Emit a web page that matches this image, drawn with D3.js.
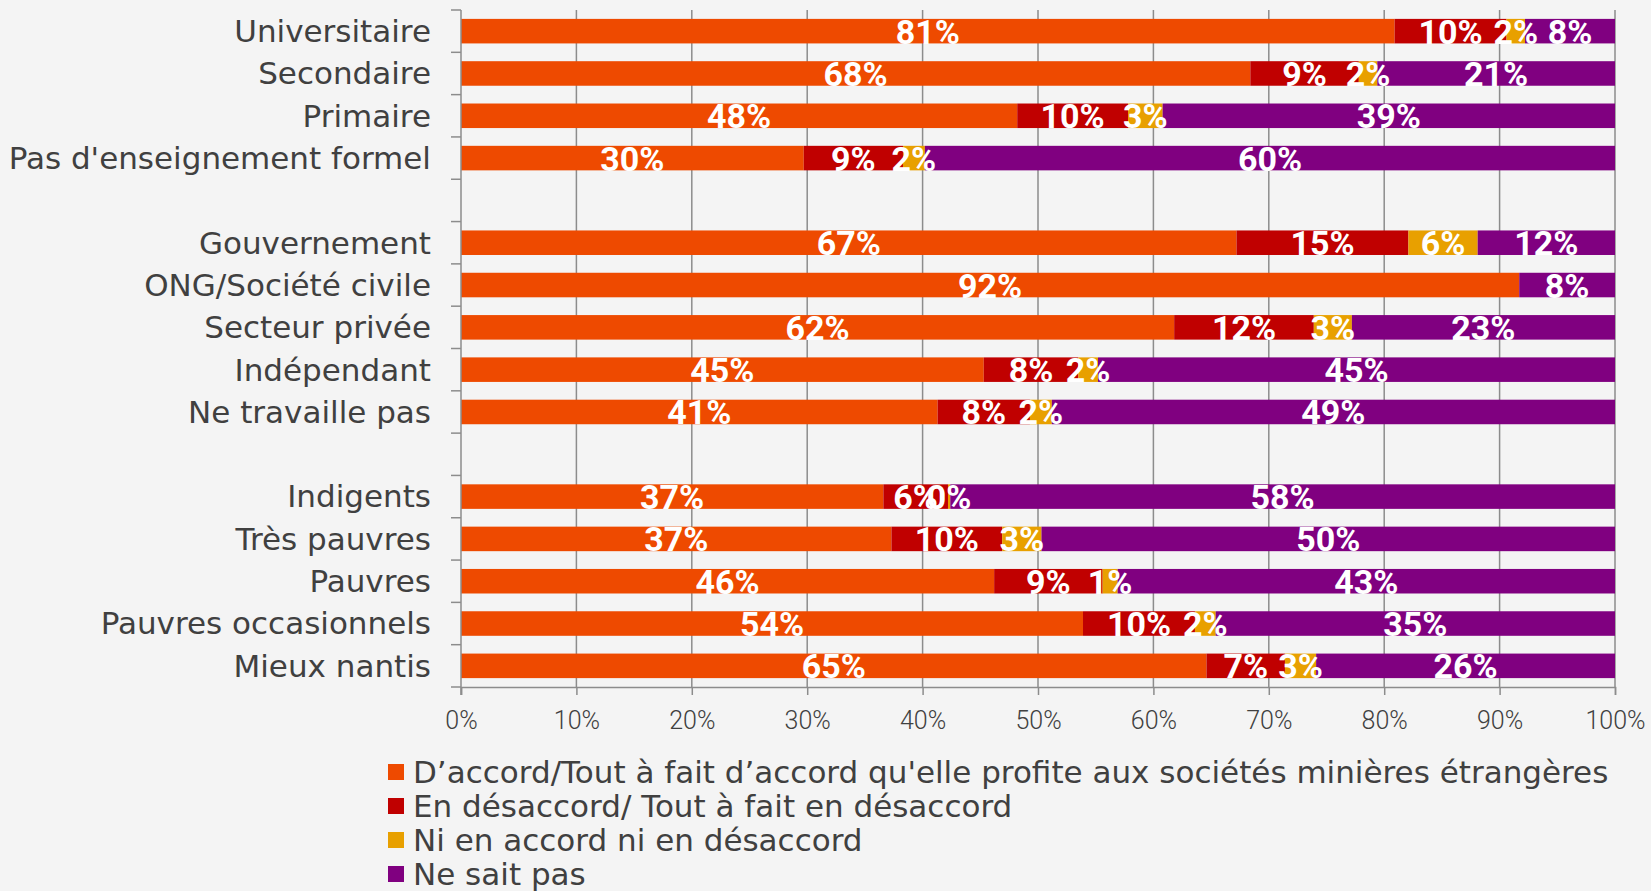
<!DOCTYPE html>
<html>
<head>
<meta charset="utf-8">
<script src="https://cdn.jsdelivr.net/npm/d3@7"></script>
<style>
  html, body { margin: 0; padding: 0; background: #f4f4f4; }
  svg { display: block; }
</style>
</head>
<body>
<svg id="chart" width="1651" height="891"></svg>
<script>
// ---- DATA ----
const categories = [
  "Universitaire", "Secondaire", "Primaire", "Pas d'enseignement formel",
  "",
  "Gouvernement", "ONG/Société civile", "Secteur privée", "Indépendant", "Ne travaille pas",
  "",
  "Indigents", "Très pauvres", "Pauvres", "Pauvres occasionnels", "Mieux nantis"
];
const seriesNames = [
  "D’accord/Tout à fait d’accord qu'elle profite aux sociétés minières étrangères",
  "En désaccord/ Tout à fait en désaccord",
  "Ni en accord ni en désaccord",
  "Ne sait pas"
];
// percentages (labels are these values rounded)
const accord    = [80.9, 68.4, 48.2, 29.7, null, 67.2, 91.7, 61.8, 45.3, 41.3, null, 36.6, 37.3, 46.2, 53.9, 64.6];
const desaccord = [ 9.7,  9.4,  9.6,  8.6, null, 14.9, null, 12.1,  8.2,  8.0, null,  5.6,  9.6,  9.4,  9.7,  6.8];
const neutre    = [ 1.6,  1.6,  3.0,  1.9, null,  6.0, null,  3.3,  1.7,  1.9, null,  0.2,  3.4,  1.3,  1.8,  2.7];
const nsp       = [ 7.8, 20.6, 39.2, 59.8, null, 11.9,  8.3, 22.8, 44.8, 48.8, null, 57.6, 49.7, 43.1, 34.6, 25.9];
const xTicks = [0, 0.1, 0.2, 0.3, 0.4, 0.5, 0.6, 0.7, 0.8, 0.9, 1.0];
const colors = ["#ee4a00", "#c00000", "#e8a000", "#800080"];

// ---- LAYOUT ----
const svg = d3.select("#chart");
const plot = { left: 461, right: 1615, top: 10, bottom: 687 };

const x = d3.scaleLinear().domain([0, 1]).range([plot.left, plot.right]);
const y = d3.scaleBand().domain(d3.range(categories.length)).range([plot.top, plot.bottom]).padding(0);
const barH = y.bandwidth() * 0.58;

const seriesValues = [accord, desaccord, neutre, nsp];
const rows = categories.map((c, i) => {
  const o = { i, name: c };
  seriesValues.forEach((s, k) => { o["s" + k] = s[i] == null ? 0 : s[i]; });
  o.blank = seriesValues.every(s => s[i] == null);
  return o;
});
const keys = ["s0", "s1", "s2", "s3"];
const stack = d3.stack().keys(keys).offset(d3.stackOffsetExpand);
const stacked = stack(rows.filter(r => !r.blank));

// gridlines
const grid = svg.append("g");
grid.selectAll("line").data(xTicks.slice(1)).join("line")
  .attr("x1", d => x(d)).attr("x2", d => x(d))
  .attr("y1", plot.top).attr("y2", plot.bottom)
  .attr("stroke", "#8c8c8c").attr("stroke-width", 1.5);

// bars
const barsG = svg.append("g");
stacked.forEach((layer, k) => {
  const g = barsG.append("g").attr("fill", colors[k]);
  g.selectAll("rect").data(layer).join("rect")
    .attr("x", d => x(d[0]))
    .attr("width", d => Math.max(0, x(d[1]) - x(d[0])))
    .attr("y", d => y(d.data.i) + (y.bandwidth() - barH) / 2)
    .attr("height", barH);
});

// labels
const fmt = d3.format(".0f");
const labG = svg.append("g")
  .attr("font-family", "Roboto, 'Liberation Sans Narrow', sans-serif")
  .attr("font-weight", "bold")
  .attr("font-size", 34)
  .attr("fill", "#ffffff")
  .attr("text-anchor", "middle");
stacked.forEach((layer, k) => {
  const src = seriesValues[k];
  labG.selectAll(null).data(layer.filter(d => src[d.data.i] != null)).join("text")
    .attr("x", d => (x(d[0]) + x(d[1])) / 2)
    .attr("y", d => y(d.data.i) + y.bandwidth() / 2 + 12.5)
    .text(d => fmt(src[d.data.i]) + "%");
});

// x axis
const xAxis = d3.axisBottom(x).tickValues(xTicks).tickFormat(d3.format(".0%")).tickSize(8).tickPadding(16);
const xg = svg.append("g").attr("transform", `translate(0,${plot.bottom})`).call(xAxis);
xg.select(".domain").attr("stroke", "#8c8c8c").attr("stroke-width", 1.5);
xg.selectAll(".tick line").attr("stroke", "#8c8c8c").attr("stroke-width", 1.5);
xg.selectAll(".tick text")
  .attr("font-family", "Roboto, sans-serif")
  .attr("font-weight", 300)
  .attr("font-size", 25).attr("fill", "#404040");

// y axis (ticks at slot boundaries)
const yBound = d3.range(categories.length + 1).map(i => plot.top + i * y.step());
const yg = svg.append("g");
yg.append("line").attr("x1", plot.left).attr("x2", plot.left)
  .attr("y1", plot.top).attr("y2", plot.bottom + 8)
  .attr("stroke", "#8c8c8c").attr("stroke-width", 1.5);
yg.selectAll("line.t").data(yBound).join("line").attr("class", "t")
  .attr("x1", plot.left - 10).attr("x2", plot.left)
  .attr("y1", d => d).attr("y2", d => d)
  .attr("stroke", "#8c8c8c").attr("stroke-width", 1.5);
yg.selectAll("text").data(rows.filter(r => !r.blank)).join("text")
  .attr("x", 431)
  .attr("y", d => y(d.i) + y.bandwidth() / 2)
  .attr("dy", "0.35em")
  .attr("text-anchor", "end")
  .attr("font-family", "'DejaVu Sans',sans-serif")
  .attr("font-size", 31)
  .attr("fill", "#404040")
  .text(d => d.name);

// legend
const lg = svg.append("g");
seriesNames.forEach((name, k) => {
  const cy = 772 + k * 34;
  lg.append("rect").attr("x", 388).attr("y", cy - 8).attr("width", 16).attr("height", 16).attr("fill", colors[k]);
  lg.append("text").attr("x", 413).attr("y", cy).attr("dy", "0.35em")
    .attr("font-family", "'DejaVu Sans',sans-serif")
    .attr("font-size", 31).attr("fill", "#404040")
    .text(name);
});
</script>
</body>
</html>
